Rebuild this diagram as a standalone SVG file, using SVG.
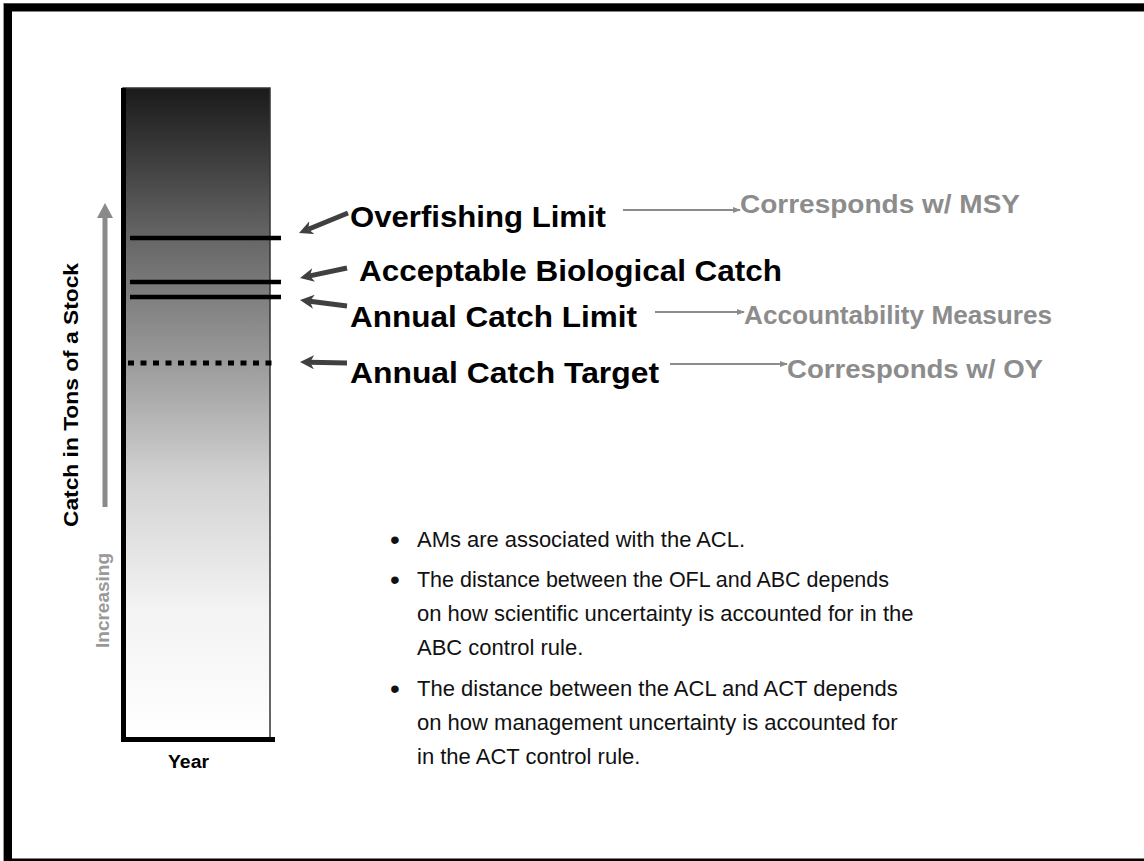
<svg xmlns="http://www.w3.org/2000/svg" width="1144" height="861" viewBox="0 0 1144 861">
  <style>
    .head { font-family: "Liberation Sans", Arial, sans-serif; font-weight: bold; font-size: 30px; fill: #000; }
    .gray { font-family: "Liberation Sans", Arial, sans-serif; font-weight: bold; font-size: 25px; fill: #8c8c8c; }
    .body { font-family: "Liberation Sans", Arial, sans-serif; font-size: 22px; fill: #111; }
    .bul { font-family: "Liberation Sans", Arial, sans-serif; font-size: 28px; fill: #111; }
    .axis { font-family: "Liberation Sans", Arial, sans-serif; font-weight: bold; fill: #000; }
    .lvl { stroke: #000; stroke-width: 4.5; }
    .dark { stroke: #404040; stroke-width: 5; fill: none; marker-end: url(#darkHead); }
    .thin { stroke: #8c8c8c; stroke-width: 2; fill: none; marker-end: url(#grayHead); }
  </style>
  <defs>
    <linearGradient id="barGrad" x1="0" y1="0" x2="0" y2="1">
      <stop offset="0" stop-color="#1a1a1a"/>
      <stop offset="0.23" stop-color="#666666"/>
      <stop offset="0.42" stop-color="#9a9a9a"/>
      <stop offset="0.6" stop-color="#d2d2d2"/>
      <stop offset="0.8" stop-color="#f3f3f3"/>
      <stop offset="1" stop-color="#ffffff"/>
    </linearGradient>
    <marker id="darkHead" markerUnits="userSpaceOnUse" markerWidth="16" markerHeight="16" refX="4" refY="7" orient="auto">
      <path d="M0,0 L14,7 L0,14 L4,7 z" fill="#404040"/>
    </marker>
    <marker id="grayHead" markerUnits="userSpaceOnUse" markerWidth="10" markerHeight="8" refX="7" refY="3" orient="auto">
      <path d="M0,0 L8,3 L0,6 z" fill="#8c8c8c"/>
    </marker>
  </defs>

  <rect width="1144" height="861" fill="#fff"/>

  <g id="frame">
    <rect x="3.5" y="3.5" width="1150" height="865" fill="none" stroke="#999" stroke-width="1"/>
    <rect x="8" y="7.5" width="1150" height="855" fill="none" stroke="#000" stroke-width="8"/>
  </g>

  <g id="chart">
    <rect x="123" y="88" width="147" height="651" fill="url(#barGrad)" stroke="#333" stroke-width="1.5"/>
    <line x1="123.5" y1="88" x2="123.5" y2="742" stroke="#000" stroke-width="5"/>
    <line x1="121" y1="739.5" x2="275" y2="739.5" stroke="#000" stroke-width="5"/>
    <line class="lvl" x1="130" y1="238" x2="281" y2="238"/>
    <line class="lvl" x1="130" y1="282" x2="281" y2="282"/>
    <line class="lvl" x1="130" y1="297" x2="281" y2="297"/>
    <line x1="128" y1="363" x2="272" y2="363" stroke="#000" stroke-width="5" stroke-dasharray="6 6.5"/>
  </g>

  <g id="y-axis-arrow">
    <line x1="105" y1="507" x2="105" y2="214" stroke="#8a8a8a" stroke-width="5"/>
    <polygon points="105,203 97,218 113,218" fill="#8a8a8a"/>
  </g>

  <g id="axis-labels">
    <text class="axis" font-size="21" transform="translate(78,527) rotate(-90)" textLength="264" lengthAdjust="spacingAndGlyphs">Catch in Tons of a Stock</text>
    <text class="axis" font-size="18" style="fill:#999" transform="translate(109,648) rotate(-90)" textLength="95" lengthAdjust="spacingAndGlyphs">Increasing</text>
    <text class="axis" font-size="18" x="168" y="768" textLength="41" lengthAdjust="spacingAndGlyphs">Year</text>
  </g>

  <g id="ofl">
    <text class="head" x="350" y="227" textLength="256" lengthAdjust="spacingAndGlyphs">Overfishing Limit</text>
  </g>
  <g id="abc">
    <text class="head" x="359" y="281" textLength="423" lengthAdjust="spacingAndGlyphs">Acceptable Biological Catch</text>
  </g>
  <g id="acl">
    <text class="head" x="350" y="327" textLength="287" lengthAdjust="spacingAndGlyphs">Annual Catch Limit</text>
  </g>
  <g id="act">
    <text class="head" x="350" y="383" textLength="309" lengthAdjust="spacingAndGlyphs">Annual Catch Target</text>
  </g>
  <g id="msy">
    <text class="gray" x="740" y="213" textLength="280" lengthAdjust="spacingAndGlyphs">Corresponds w/ MSY</text>
  </g>
  <g id="am">
    <text class="gray" x="744" y="324" textLength="308" lengthAdjust="spacingAndGlyphs">Accountability Measures</text>
  </g>
  <g id="oy">
    <text class="gray" x="787" y="378" textLength="256" lengthAdjust="spacingAndGlyphs">Corresponds w/ OY</text>
  </g>

  <g id="connectors">
    <line class="dark" x1="348" y1="213" x2="308.3" y2="229.2"/>
    <line class="dark" x1="347" y1="268" x2="309.8" y2="275.9"/>
    <line class="dark" x1="347" y1="306" x2="309.9" y2="301.3"/>
    <line class="dark" x1="347" y1="363" x2="310" y2="362.2"/>
    <line class="thin" x1="623" y1="210" x2="740" y2="210"/>
    <line class="thin" x1="655" y1="312" x2="744" y2="312"/>
    <line class="thin" x1="670" y1="364" x2="787" y2="364"/>
  </g>

  <g id="notes">
    <text class="bul" x="390" y="549">•</text>
    <text class="body" x="417" y="547" textLength="328" lengthAdjust="spacingAndGlyphs">AMs are associated with the ACL.</text>
    <text class="bul" x="390" y="589">•</text>
    <text class="body" x="417" y="587" textLength="472" lengthAdjust="spacingAndGlyphs">The distance between the OFL and ABC depends</text>
    <text class="body" x="417" y="621">on how scientific uncertainty is accounted for in the</text>
    <text class="body" x="417" y="655">ABC control rule.</text>
    <text class="bul" x="390" y="698">•</text>
    <text class="body" x="417" y="696">The distance between the ACL and ACT depends</text>
    <text class="body" x="417" y="730">on how management uncertainty is accounted for</text>
    <text class="body" x="417" y="764">in the ACT control rule.</text>
  </g>
</svg>
